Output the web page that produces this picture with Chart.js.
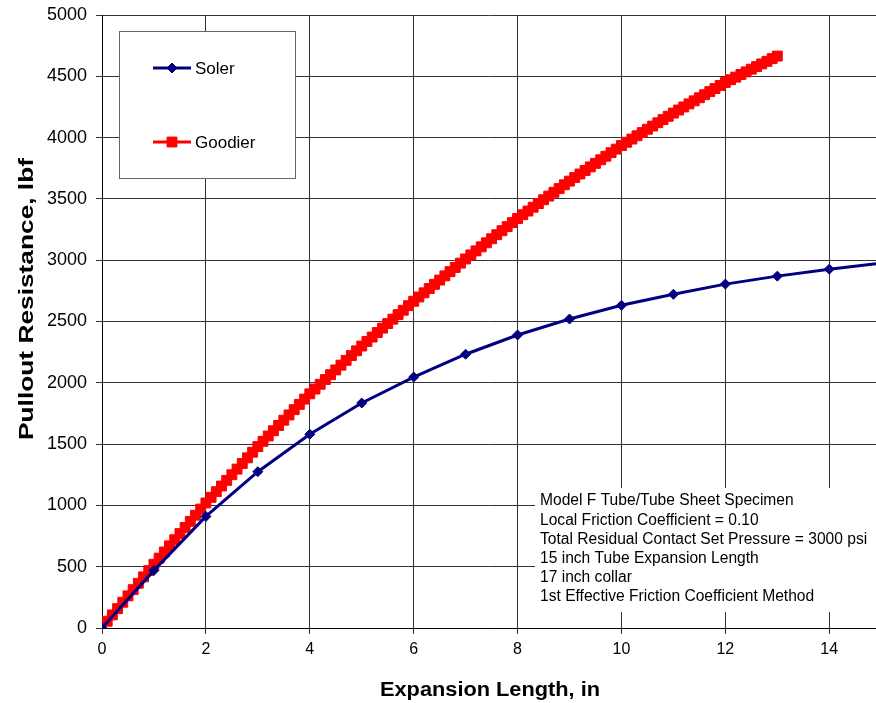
<!DOCTYPE html>
<html>
<head>
<meta charset="utf-8">
<script src="https://cdn.jsdelivr.net/npm/chart.js@4/dist/chart.umd.min.js"></script>
<style>
  html, body { margin: 0; background: #fff; overflow: hidden; }
  /* a little wider than the window: Chart.js keeps a small gap right of the plot */
  #wrap { width: 884px; height: 703px; position: relative; }
</style>
</head>
<body>
<div id="wrap"><canvas id="chart"></canvas></div>
<script>
// Soler: one point per inch
const solerX = [0, 1, 2, 3, 4, 5, 6, 7, 8, 9, 10, 11, 12, 13, 14, 15];
const solerY = [0, 470, 910, 1275, 1580, 1835, 2047, 2233, 2390, 2520, 2632, 2722, 2805, 2870, 2927, 2975];

// Goodier: dense curve, every 0.1 in
const goodierX = [
  0.1, 0.2, 0.3, 0.4, 0.5, 0.6, 0.7, 0.8, 0.9, 1.0,
  1.1, 1.2, 1.3, 1.4, 1.5, 1.6, 1.7, 1.8, 1.9, 2.0,
  2.1, 2.2, 2.3, 2.4, 2.5, 2.6, 2.7, 2.8, 2.9, 3.0,
  3.1, 3.2, 3.3, 3.4, 3.5, 3.6, 3.7, 3.8, 3.9, 4.0,
  4.1, 4.2, 4.3, 4.4, 4.5, 4.6, 4.7, 4.8, 4.9, 5.0,
  5.1, 5.2, 5.3, 5.4, 5.5, 5.6, 5.7, 5.8, 5.9, 6.0,
  6.1, 6.2, 6.3, 6.4, 6.5, 6.6, 6.7, 6.8, 6.9, 7.0,
  7.1, 7.2, 7.3, 7.4, 7.5, 7.6, 7.7, 7.8, 7.9, 8.0,
  8.1, 8.2, 8.3, 8.4, 8.5, 8.6, 8.7, 8.8, 8.9, 9.0,
  9.1, 9.2, 9.3, 9.4, 9.5, 9.6, 9.7, 9.8, 9.9, 10.0,
  10.1, 10.2, 10.3, 10.4, 10.5, 10.6, 10.7, 10.8, 10.9, 11.0,
  11.1, 11.2, 11.3, 11.4, 11.5, 11.6, 11.7, 11.8, 11.9, 12.0,
  12.1, 12.2, 12.3, 12.4, 12.5, 12.6, 12.7, 12.8, 12.9, 13.0
];
const goodierY = [
  55, 107, 158, 210, 262, 313, 365, 417, 468, 520,
  570, 620, 670, 720, 770, 820, 870, 920, 970, 1020,
  1066, 1112, 1158, 1204, 1250, 1296, 1342, 1388, 1434, 1480,
  1523, 1566, 1609, 1652, 1695, 1738, 1781, 1824, 1867, 1910,
  1949, 1988, 2027, 2066, 2105, 2144, 2183, 2222, 2261, 2300,
  2337, 2373, 2410, 2446, 2483, 2519, 2556, 2592, 2629, 2665,
  2700, 2734, 2769, 2803, 2838, 2872, 2907, 2941, 2976, 3010,
  3043, 3076, 3109, 3142, 3175, 3208, 3241, 3274, 3307, 3340,
  3371, 3401, 3432, 3462, 3493, 3523, 3554, 3584, 3615, 3645,
  3674, 3703, 3732, 3761, 3790, 3819, 3848, 3877, 3906, 3935,
  3962, 3988, 4015, 4041, 4068, 4094, 4121, 4147, 4174, 4200,
  4225, 4250, 4275, 4300, 4325, 4350, 4375, 4400, 4425, 4450,
  4472, 4493, 4515, 4536, 4558, 4579, 4601, 4622, 4644, 4665
];

const seriesNames = ['Soler', 'Goodier'];
const xTitle = 'Expansion Length, in';
const yTitle = 'Pullout Resistance, lbf';
const noteLines = [
  'Model F Tube/Tube Sheet Specimen',
  'Local Friction Coefficient = 0.10',
  'Total Residual Contact Set Pressure = 3000 psi',
  '15 inch Tube Expansion Length',
  '17 inch collar',
  '1st Effective Friction Coefficient Method'
];

const FONT = "'Liberation Sans', Arial, sans-serif";
const toPoints = (xs, ys) => xs.map((x, i) => ({ x: x, y: ys[i] }));

// draw text stretched along its run to a target length (the original uses wide fonts)
function stretchedText(ctx, text, x, y, targetLen, rotate) {
  const w = ctx.measureText(text).width;
  ctx.save();
  ctx.translate(x, y);
  if (rotate) ctx.rotate(-Math.PI / 2);
  ctx.scale(targetLen / w, 1);
  ctx.textAlign = 'center';
  ctx.textBaseline = 'middle';
  ctx.fillText(text, 0, 0);
  ctx.restore();
}

// legend box, note text and axis titles, drawn like the original
const overlayPlugin = {
  id: 'overlay',
  afterDraw(chart) {
    const ctx = chart.ctx;
    ctx.save();
    // legend
    ctx.fillStyle = '#fff';
    ctx.fillRect(119.5, 31.5, 176, 147);
    ctx.strokeStyle = '#666';
    ctx.lineWidth = 1;
    ctx.strokeRect(119.5, 31.5, 176, 147);
    const rows = [68, 142];
    chart.data.datasets.forEach((ds, i) => {
      const y = rows[i];
      ctx.strokeStyle = ds.borderColor;
      ctx.lineWidth = ds.borderWidth;
      ctx.beginPath();
      ctx.moveTo(153, y);
      ctx.lineTo(191, y);
      ctx.stroke();
      ctx.fillStyle = ds.pointBackgroundColor;
      ctx.strokeStyle = ds.pointBorderColor;
      ctx.lineWidth = 1;
      Chart.helpers.drawPoint(ctx, {
        pointStyle: ds.pointStyle, radius: ds.pointRadius, borderWidth: 1
      }, 172, y);
      ctx.fillStyle = '#000';
      ctx.font = '17px ' + FONT;
      ctx.textBaseline = 'middle';
      ctx.textAlign = 'left';
      ctx.fillText(ds.label, 195, y + 1);
    });
    // note box
    ctx.fillStyle = '#fff';
    ctx.fillRect(535, 488, 350, 124);
    ctx.fillStyle = '#000';
    ctx.font = '15.6px ' + FONT;
    ctx.textBaseline = 'middle';
    ctx.textAlign = 'left';
    noteLines.forEach((t, i) => {
      ctx.fillText(t, 540, 501 + i * 19.2);
    });
    // axis titles
    ctx.font = 'bold 20px ' + FONT;
    stretchedText(ctx, xTitle, 490, 690, 220, false);
    stretchedText(ctx, yTitle, 27, 299, 282, true);
    ctx.restore();
  }
};

new Chart(document.getElementById('chart'), {
  type: 'line',
  data: {
    datasets: [
      {
        label: seriesNames[0],
        data: toPoints(solerX, solerY),
        borderColor: '#000080',
        backgroundColor: '#000080',
        pointBackgroundColor: '#000080',
        pointBorderColor: '#000080',
        borderWidth: 3,
        pointStyle: 'rectRot',
        pointRadius: 5,
        pointBorderWidth: 1,
        tension: 0
      },
      {
        label: seriesNames[1],
        data: toPoints(goodierX, goodierY),
        borderColor: '#ff0000',
        backgroundColor: '#ff0000',
        pointBackgroundColor: '#ff0000',
        pointBorderColor: '#ff0000',
        borderWidth: 3,
        pointStyle: 'rect',
        pointRadius: 7,
        pointBorderWidth: 1,
        tension: 0
      }
    ]
  },
  options: {
    responsive: true,
    maintainAspectRatio: false,
    devicePixelRatio: 1,
    animation: false,
    layout: { padding: { top: 15, right: 0, left: 0, bottom: 0 } },
    plugins: {
      legend: { display: false },
      tooltip: { enabled: false }
    },
    scales: {
      x: {
        type: 'linear',
        min: 0,
        max: 14.9,
        afterFit(scale) {
          scale.height = 75;
          scale.paddingLeft = 0;
          scale.paddingRight = 0;
        },
        ticks: {
          stepSize: 2,
          includeBounds: false,
          padding: 6,
          color: '#000',
          font: { family: FONT, size: 16 },
          callback: (v) => String(v)
        },
        grid: { color: '#333', lineWidth: 1, tickLength: 6, tickColor: '#333' },
        border: { color: '#000', width: 1 }
      },
      y: {
        type: 'linear',
        min: 0,
        max: 5000,
        afterFit(scale) {
          scale.width = 102;
          scale.paddingTop = 0;
          scale.paddingBottom = 0;
        },
        ticks: {
          stepSize: 500,
          padding: 9,
          color: '#000',
          font: { family: FONT, size: 18 },
          callback: (v) => String(v)
        },
        grid: { color: '#333', lineWidth: 1, tickLength: 6, tickColor: '#333' },
        border: { color: '#000', width: 1 }
      }
    }
  },
  plugins: [overlayPlugin]
});
</script>
</body>
</html>
